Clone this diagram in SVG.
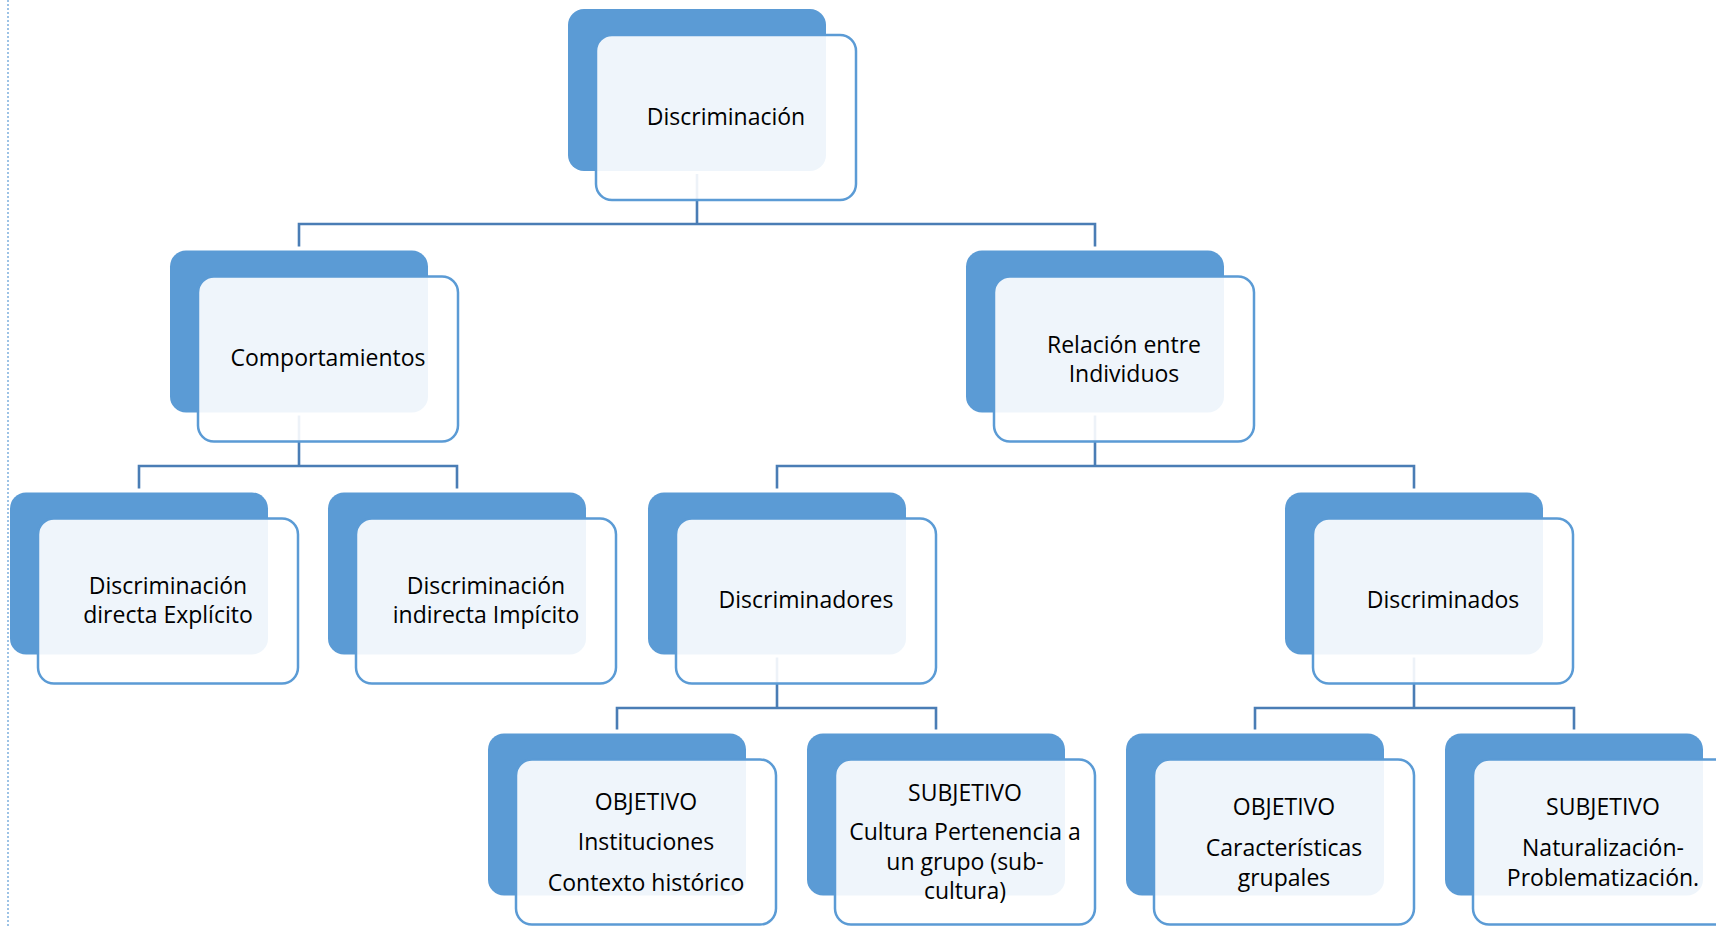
<svg xmlns="http://www.w3.org/2000/svg" width="1716" height="926" viewBox="0 0 1716 926">
<style>
.dk{fill:#5B9BD5;}
.lt{fill:#FFFFFF;fill-opacity:0.9;stroke:#5B9BD5;stroke-width:2.5;}
.cn{fill:none;stroke:#4A7DB5;stroke-width:2.6;}
text{font-family:"Open Sans","Liberation Sans",sans-serif;font-size:23px;fill:#000;text-anchor:middle;}
</style>
<rect width="1716" height="926" fill="#FFFFFF"/>
<line x1="8" y1="0" x2="8" y2="926" stroke="#9DC3E6" stroke-width="2" stroke-dasharray="2 2"/>
<g id="connectors">
<path class="cn" d="M697 174 V224 M299 246.5 V224 H1095 V246.5"/>
<path class="cn" d="M299 415.5 V466 M139 488.5 V466 H457 V488.5"/>
<path class="cn" d="M1095 415.5 V466 M777 488.5 V466 H1414 V488.5"/>
<path class="cn" d="M777 657.5 V708 M617 729.5 V708 H936 V729.5"/>
<path class="cn" d="M1414 657.5 V708 M1255 729.5 V708 H1574 V729.5"/>
</g>
<g id="n-discriminacion">
<rect class="dk" x="568" y="9" width="258" height="162" rx="16"/>
<rect class="lt" x="596" y="35" width="260" height="165" rx="16"/>
<text x="726" y="125">Discriminación</text>
</g>
<g id="n-comportamientos">
<rect class="dk" x="170" y="250.5" width="258" height="162" rx="16"/>
<rect class="lt" x="198" y="276.5" width="260" height="165" rx="16"/>
<text x="328" y="366">Comportamientos</text>
</g>
<g id="n-relacion">
<rect class="dk" x="966" y="250.5" width="258" height="162" rx="16"/>
<rect class="lt" x="994" y="276.5" width="260" height="165" rx="16"/>
<text x="1124" y="352.5">Relación entre</text>
<text x="1124" y="381.5">Individuos</text>
</g>
<g id="n-directa">
<rect class="dk" x="10" y="492.5" width="258" height="162" rx="16"/>
<rect class="lt" x="38" y="518.5" width="260" height="165" rx="16"/>
<text x="168" y="593.5">Discriminación</text>
<text x="168" y="622.5">directa Explícito</text>
</g>
<g id="n-indirecta">
<rect class="dk" x="328" y="492.5" width="258" height="162" rx="16"/>
<rect class="lt" x="356" y="518.5" width="260" height="165" rx="16"/>
<text x="486" y="593.5">Discriminación</text>
<text x="486" y="622.5">indirecta Impícito</text>
</g>
<g id="n-discriminadores">
<rect class="dk" x="648" y="492.5" width="258" height="162" rx="16"/>
<rect class="lt" x="676" y="518.5" width="260" height="165" rx="16"/>
<text x="806" y="608">Discriminadores</text>
</g>
<g id="n-discriminados">
<rect class="dk" x="1285" y="492.5" width="258" height="162" rx="16"/>
<rect class="lt" x="1313" y="518.5" width="260" height="165" rx="16"/>
<text x="1443" y="608">Discriminados</text>
</g>
<g id="n-objetivo1">
<rect class="dk" x="488" y="733.5" width="258" height="162" rx="16"/>
<rect class="lt" x="516" y="759.5" width="260" height="165" rx="16"/>
<text x="646" y="810">OBJETIVO</text>
<text x="646" y="850">Instituciones</text>
<text x="646" y="890.5">Contexto histórico</text>
</g>
<g id="n-subjetivo1">
<rect class="dk" x="807" y="733.5" width="258" height="162" rx="16"/>
<rect class="lt" x="835" y="759.5" width="260" height="165" rx="16"/>
<text x="965" y="801">SUBJETIVO</text>
<text x="965" y="840">Cultura Pertenencia a</text>
<text x="965" y="869.5">un grupo (sub-</text>
<text x="965" y="898.5">cultura)</text>
</g>
<g id="n-objetivo2">
<rect class="dk" x="1126" y="733.5" width="258" height="162" rx="16"/>
<rect class="lt" x="1154" y="759.5" width="260" height="165" rx="16"/>
<text x="1284" y="815">OBJETIVO</text>
<text x="1284" y="856">Características</text>
<text x="1284" y="885.5">grupales</text>
</g>
<g id="n-subjetivo2">
<rect class="dk" x="1445" y="733.5" width="258" height="162" rx="16"/>
<rect class="lt" x="1473" y="759.5" width="260" height="165" rx="16"/>
<text x="1603" y="815">SUBJETIVO</text>
<text x="1603" y="856">Naturalización-</text>
<text x="1603" y="885.5">Problematización.</text>
</g>
</svg>
